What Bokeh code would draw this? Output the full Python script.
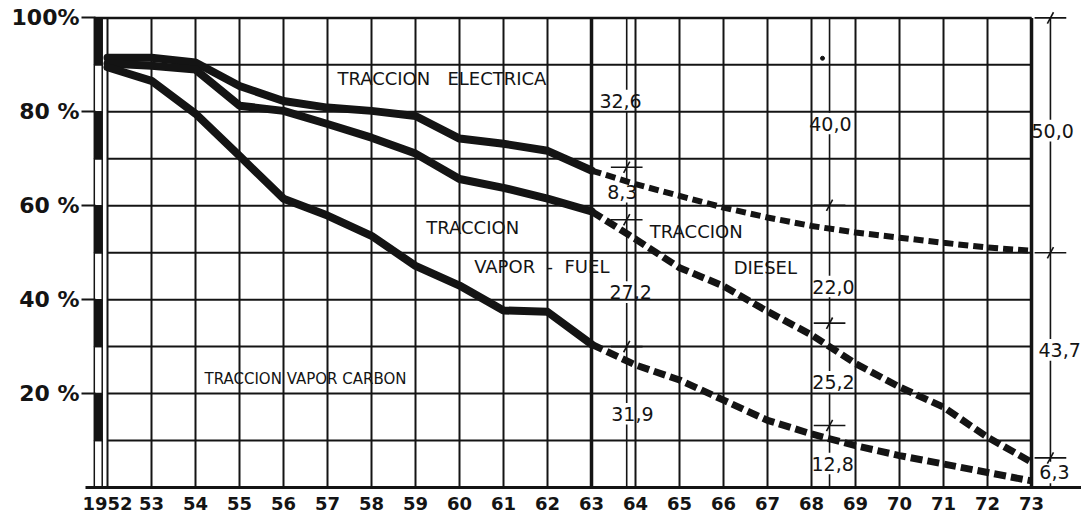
from bokeh.plotting import figure
from bokeh.models import FixedTicker, Range1d, ColumnDataSource
from bokeh.core.properties import value
from bokeh.embed import file_html
from bokeh.resources import INLINE

# ---------------- data ----------------
years = [1952, 1953, 1954, 1955, 1956, 1957, 1958, 1959, 1960, 1961, 1962,
         1963, 1964, 1965, 1966, 1967, 1968, 1969, 1970, 1971, 1972, 1973]
year_labels = ["1952", "53", "54", "55", "56", "57", "58", "59", "60", "61", "62",
               "63", "64", "65", "66", "67", "68", "69", "70", "71", "72", "73"]
grid_pct = [10, 20, 30, 40, 50, 60, 70, 80, 90, 100]
y_ticks = [20, 40, 60, 80, 100]
y_tick_labels = ["20 %", "40 %", "60 %", "80 %", "100%"]

# real values 1952-1963 (solid)
hist_years = [1952, 1953, 1954, 1955, 1956, 1957, 1958, 1959, 1960, 1961, 1962, 1963]
electrica_hist = [91.5, 91.5, 90.5, 85.5, 82.3, 80.9, 80.2, 79.1, 74.3, 73.2, 71.7, 67.5]
diesel_hist = [90.3, 89.8, 89.0, 81.3, 80.2, 77.4, 74.5, 71.1, 65.7, 63.8, 61.5, 58.8]
carbon_hist = [89.5, 86.6, 79.6, 70.6, 61.5, 57.9, 53.6, 47.2, 43.0, 37.7, 37.4, 30.5]

# forecast 1963-1973 (dashed)
proj_years = [1963, 1964, 1965, 1966, 1967, 1968, 1969, 1970, 1971, 1972, 1973]
electrica_proj = [67.5, 64.6, 62.1, 59.6, 57.5, 55.7, 54.3, 53.2, 52.1, 51.1, 50.4]
diesel_proj = [58.8, 52.9, 46.8, 42.9, 37.5, 32.5, 26.4, 21.4, 17.1, 10.7, 5.4]
carbon_proj = [30.5, 26.1, 22.9, 18.6, 14.3, 11.4, 8.9, 6.8, 5.0, 3.2, 1.4]

# dimension annotations (share values)
dim1_labels = ["31,9", "27,2", "8,3", "32,6"]
dim2_labels = ["12,8", "25,2", "22,0", "40,0"]
dim3_labels = ["6,3", "43,7", "50,0"]

NB = "\u00a0"
region_labels = ["TRACCION" + NB * 3 + "ELECTRICA", "TRACCION",
                 "VAPOR" + NB * 2 + "-" + NB * 2 + "FUEL", "TRACCION", "DIESEL"]
carbon_label = "TRACCION VAPOR CARBON"

# ---------------- figure ----------------
INK = "#141414"
FONT = "DejaVu Sans"

p = figure(width=1081, height=512, output_backend="svg", toolbar_location=None,
           x_range=Range1d(1951.5, 1974.136), y_range=Range1d(0, 102.0),
           min_border_left=85, min_border_right=0, min_border_top=8,
           min_border_bottom=24)
p.outline_line_color = None
p.background_fill_color = "white"
p.border_fill_color = "white"
p.xgrid.visible = False
p.ygrid.visible = False

# x axis
p.xaxis.ticker = FixedTicker(ticks=years)
p.xaxis.major_label_overrides = {y: l for y, l in zip(years, year_labels)}
p.xaxis.axis_line_width = 3
p.xaxis.axis_line_color = INK
p.xaxis.major_tick_line_color = None
p.xaxis.minor_tick_line_color = None
p.xaxis.major_label_standoff = 3
p.xaxis.major_label_text_font = FONT
p.xaxis.major_label_text_font_size = "18px"
p.xaxis.major_label_text_font_style = "bold"
p.xaxis.major_label_text_color = INK

# y axis
p.yaxis.ticker = FixedTicker(ticks=y_ticks)
p.yaxis.major_label_overrides = {t: l for t, l in zip(y_ticks, y_tick_labels)}
p.yaxis.axis_line_color = None
p.yaxis.major_tick_in = 10
p.yaxis.major_tick_out = 4
p.yaxis.major_tick_line_width = 2
p.yaxis.major_tick_line_color = INK
p.yaxis.minor_tick_line_color = None
p.yaxis.major_label_standoff = 2
p.yaxis.major_label_text_font = FONT
p.yaxis.major_label_text_font_size = "22px"
p.yaxis.major_label_text_font_style = "bold"
p.yaxis.major_label_text_color = INK

# ---------------- grid ----------------
x_first, x_last = years[0], years[-1]
vgrid = ColumnDataSource(dict(x0=years, x1=years, y0=[0] * len(years),
                              y1=[grid_pct[-1]] * len(years)))
p.segment("x0", "y0", "x1", "y1", source=vgrid, line_color=INK, line_width=2)
hgrid = ColumnDataSource(dict(x0=[x_first] * len(grid_pct), x1=[x_last] * len(grid_pct),
                              y0=grid_pct, y1=grid_pct))
p.segment("x0", "y0", "x1", "y1", source=hgrid, line_color=INK, line_width=2)
# heavier lines: 1963 (start of forecast), 1973 border, top border
p.segment(x0=[years[11], x_last], y0=[0, 0], x1=[years[11], x_last],
          y1=[grid_pct[-1], grid_pct[-1]], line_color=INK, line_width=3.5)
p.segment(x0=[1951.7], y0=[grid_pct[-1]], x1=[x_last], y1=[grid_pct[-1]],
          line_color=INK, line_width=2.5)

# left striped bar
bar_bottoms = [0, 10, 20, 30, 40, 50, 60, 70, 80, 90]
bar_fill = ["white", INK] * 5
p.quad(left=1951.70, right=1951.88, bottom=bar_bottoms,
       top=[b + 10 for b in bar_bottoms], fill_color=bar_fill,
       line_color=INK, line_width=1.5)

# ---------------- series ----------------
for ys in (electrica_hist, diesel_hist, carbon_hist):
    p.line(hist_years, ys, line_color=INK, line_width=8, line_join="round",
           line_cap="round")
p.line(proj_years, electrica_proj, line_color=INK, line_width=6, line_dash="10 5")
p.line(proj_years, diesel_proj, line_color=INK, line_width=7, line_dash="12 5")
p.line(proj_years, carbon_proj, line_color=INK, line_width=7, line_dash="12 5")

# ---------------- dimension lines ----------------
def dim_segments(ticks, label_y, gap):
    segs = []
    ts = sorted(ticks)
    for a, b in zip(ts[:-1], ts[1:]):
        inside = [ly for ly in label_y if a < ly < b]
        if inside:
            ly = inside[0]
            if ly + gap < b:
                segs.append((ly + gap, b))
            if ly - gap > a:
                segs.append((a, ly - gap))
        else:
            segs.append((a, b))
    return segs

dims = [
    dict(x=1963.8, ticks=[0, 30.0, 57.0, 68.2, 100], marks=[30.0, 57.0, 68.2],
         labels=dim1_labels, lx=[1963.93, 1963.89, 1963.70, 1963.66],
         ly=[15.7, 41.6, 63.0, 82.4]),
    dict(x=1968.41, ticks=[0, 13.2, 35.0, 60.1, 100], marks=[13.2, 35.0, 60.1],
         labels=dim2_labels, lx=[1968.48, 1968.5, 1968.5, 1968.43],
         ly=[5.1, 22.5, 42.8, 77.5]),
    dict(x=1973.43, ticks=[0, 6.3, 50.0, 100], marks=[6.3, 50.0, 100],
         labels=dim3_labels, lx=[1973.52, 1973.64, 1973.48],
         ly=[3.2, 29.3, 76.0]),
]
for d in dims:
    segs = dim_segments(d["ticks"], d["ly"], 2.3)
    p.segment(x0=[d["x"]] * len(segs), x1=[d["x"]] * len(segs),
              y0=[s[0] for s in segs], y1=[s[1] for s in segs],
              line_color=INK, line_width=1.6)
    m = d["marks"]
    p.segment(x0=[d["x"] - 0.36] * len(m), x1=[d["x"] + 0.36] * len(m),
              y0=m, y1=m, line_color=INK, line_width=1.6)
    p.segment(x0=[d["x"] - 0.07] * len(m), x1=[d["x"] + 0.07] * len(m),
              y0=[v - 1.2 for v in m], y1=[v + 1.2 for v in m],
              line_color=INK, line_width=1.6)
    p.text(x=d["lx"], y=d["ly"], text=d["labels"], text_align="center",
           text_baseline="middle", text_font=value(FONT),
           text_font_size="19px", text_color=INK)

# small top mark of the first dimension and dot above "40,0"
p.segment(x0=[1963.72], x1=[1963.88], y0=[100], y1=[100], line_color=INK, line_width=2)
p.scatter(x=[1968.25], y=[91.4], size=4, color=INK)

# ---------------- region labels ----------------
p.text(x=[1959.6, 1960.3, 1961.87, 1965.38, 1966.95],
       y=[87.2, 55.3, 47.0, 54.6, 46.9],
       text=region_labels, text_align="center", text_baseline="middle",
       text_font=value(FONT), text_font_size="18px", text_color=INK)
p.text(x=[1956.5], y=[23.2], text=[carbon_label], text_align="center",
       text_baseline="middle", text_font=value(FONT), text_font_size="15px",
       text_color=INK)

open("out.html", "w").write(file_html(p, INLINE))
